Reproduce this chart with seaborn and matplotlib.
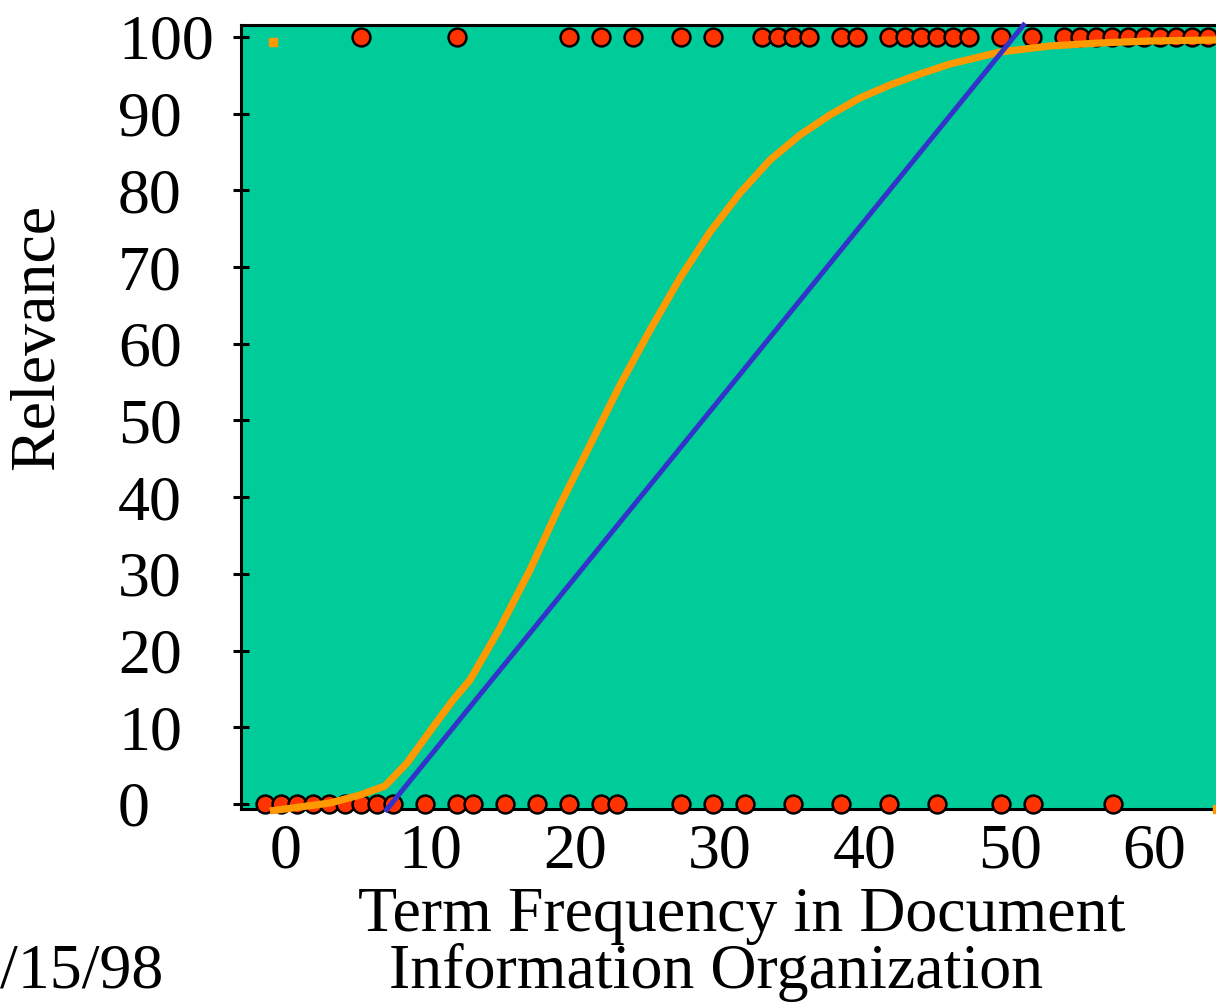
import numpy as np
import pandas as pd
import matplotlib
matplotlib.use("Agg")
import matplotlib.pyplot as plt
import seaborn as sns

# ---------------- data ----------------
rel0_x = [-1.40, -0.30, 0.79, 1.89, 3.02, 4.12, 5.23, 6.33, 7.44, 9.64, 11.85,
          12.96, 15.17, 17.36, 19.59, 21.77, 22.88, 27.30, 29.51, 31.74, 35.05,
          38.36, 41.68, 44.99, 49.41, 51.62, 57.14]
rel100_x = [5.21, 11.83, 19.59, 21.77, 23.98, 27.30, 29.51, 32.89, 33.99, 35.07,
            36.18, 38.36, 39.47, 41.68, 42.78, 43.87, 44.97, 46.07, 47.18, 49.39,
            51.57, 53.78, 54.88, 55.99, 57.09, 58.20, 59.30, 60.41, 61.51, 62.62,
            63.72]

curve_x = [-1.06, 1.01, 3.09, 5.16, 6.88, 8.40, 10.20, 11.58, 12.75, 14.82, 16.89,
           18.96, 21.04, 23.11, 25.18, 27.25, 29.32, 31.39, 33.46, 35.53, 37.60,
           39.67, 41.74, 43.82, 45.89, 49.34, 52.79, 56.24, 59.69, 64.25]
curve_y = [-0.91, -0.39, 0.13, 1.17, 2.35, 5.35, 10.04, 13.56, 16.17, 22.95, 30.51,
           38.98, 46.81, 54.63, 61.80, 68.58, 74.58, 79.66, 83.96, 87.22, 89.83,
           92.05, 93.74, 95.18, 96.48, 98.04, 98.83, 99.22, 99.48, 99.61]

line_x = [6.88, 51.07]
line_y = [-1.0, 101.8]

mark_x = [-0.83, 64.3]
mark_y = [99.4, -0.7]

x_ticks = [0, 10, 20, 30, 40, 50, 60]
y_ticks = [0, 10, 20, 30, 40, 50, 60, 70, 80, 90, 100]

dots = pd.DataFrame({
    "tf": rel0_x + rel100_x,
    "relevance": [0] * len(rel0_x) + [100] * len(rel100_x),
})
curve = pd.DataFrame({"tf": curve_x, "relevance": curve_y})
fit = pd.DataFrame({"tf": line_x, "relevance": line_y})

# ---------------- style ----------------
sns.set_style("ticks")
plt.rcParams["font.family"] = ["Liberation Serif", "DejaVu Serif"]
plt.rcParams["text.color"] = "black"
plt.rcParams["xtick.color"] = "black"
plt.rcParams["ytick.color"] = "black"
plt.rcParams["xtick.labelcolor"] = "black"
plt.rcParams["ytick.labelcolor"] = "black"
FS = 46

W, H = 1216, 1002
fig = plt.figure(figsize=(W / 100, H / 100), dpi=100)
left, right, top, bottom = 241, 1216, 25.4, 808.5
ax = fig.add_axes([left / W, (H - bottom) / H, (right - left) / W, (bottom - top) / H])
ax.set_facecolor("#00CC99")

sns.scatterplot(data=dots, x="tf", y="relevance", ax=ax, s=165, color="#FF3300",
                edgecolor="black", linewidth=1.8, zorder=3, clip_on=False, legend=False)
sns.lineplot(data=curve, x="tf", y="relevance", ax=ax, color="#FF9900", lw=5.2,
             sort=False, estimator=None, zorder=4, legend=False)
sns.lineplot(data=fit, x="tf", y="relevance", ax=ax, color="#3333CC", lw=3.6,
             sort=False, estimator=None, zorder=5, legend=False)
for ln in ax.get_lines():
    ln.set_clip_on(False)
    ln.set_solid_capstyle("butt")
ax.plot(mark_x, mark_y, ls="none", marker="s", ms=5.5, color="#FF9900",
        clip_on=False, zorder=6)

ax.set_xlim(-3.06, 64.25)
ax.set_ylim(-0.587, 101.51)

ax.set_xticks(x_ticks)
ax.set_xticklabels([str(v) for v in x_ticks], fontsize=FS, color="black")
ax.set_yticks(y_ticks)
ax.set_yticklabels([str(v) for v in y_ticks], fontsize=FS, ha="left", color="black")
ax.tick_params(axis="x", length=0, pad=11)
ax.tick_params(axis="y", direction="inout", length=12, width=2.2, pad=82.5, color="black")

for side in ["left", "top", "bottom"]:
    ax.spines[side].set_linewidth(2.2)
    ax.spines[side].set_color("black")
ax.spines["right"].set_visible(False)
ax.set_xlabel("")
ax.set_ylabel("")

def px(x, y):
    return x / W, 1 - y / H

fig.text(*px(742, 931), "Term Frequency in Document", fontsize=FS, ha="center",
         va="baseline", color="black")
fig.text(*px(716, 988), "Information Organization", fontsize=FS, ha="center",
         va="baseline", color="black")
fig.text(*px(0, 988), "/15/98", fontsize=FS, ha="left", va="baseline", color="black")
fig.text(*px(38, 337), "Relevance", fontsize=FS, rotation=90, ha="center",
         va="center", color="black")

fig.savefig("out.png", dpi=100)
